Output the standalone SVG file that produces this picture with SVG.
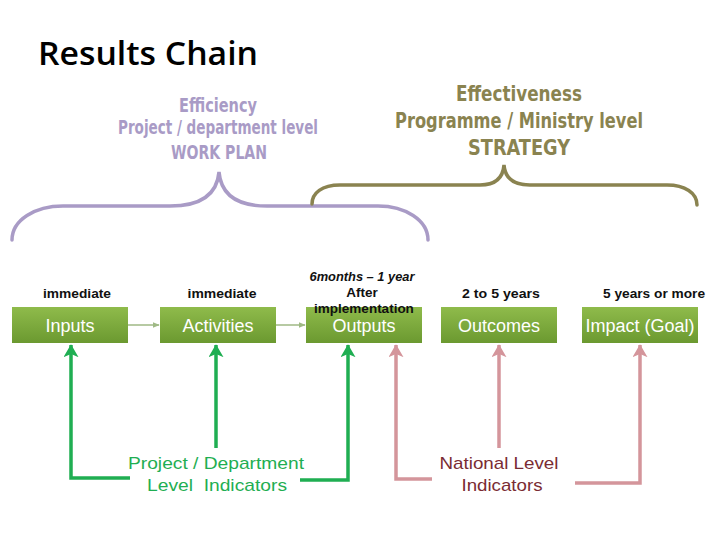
<svg xmlns="http://www.w3.org/2000/svg" width="720" height="540" viewBox="0 0 720 540">
<defs>
<linearGradient id="boxGrad" x1="0" y1="0" x2="0" y2="1">
<stop offset="0" stop-color="#8fbb4b"/>
<stop offset="1" stop-color="#6b9930"/>
</linearGradient>
<marker id="thinArrow" viewBox="0 0 10 10" refX="9" refY="5" markerWidth="7" markerHeight="7" orient="auto" markerUnits="userSpaceOnUse">
<path d="M0,1 L10,5 L0,9 z" fill="#9fb985"/>
</marker>
<marker id="greenArrow" viewBox="0 0 16 12" refX="15" refY="6" markerWidth="13" markerHeight="15" orient="auto" markerUnits="userSpaceOnUse" preserveAspectRatio="none">
<path d="M0,0 L16,6 L0,12 L4,6 z" fill="#1fae52"/>
</marker>
<marker id="pinkArrow" viewBox="0 0 16 12" refX="15" refY="6" markerWidth="13" markerHeight="15" orient="auto" markerUnits="userSpaceOnUse" preserveAspectRatio="none">
<path d="M0,0 L16,6 L0,12 L4,6 z" fill="#d4959b"/>
</marker>
</defs>
<style>
.box { fill: url(#boxGrad); }
.boxText { font-family: "Liberation Sans", Arial, sans-serif; font-size: 18px; fill: #ffffff; text-anchor: middle; }
.time { font-family: "Liberation Sans", Arial, sans-serif; font-size: 13.5px; font-weight: bold; fill: #111111; text-anchor: middle; }
.purple { font-family: "DejaVu Sans Condensed", "DejaVu Sans", sans-serif; font-size: 19px; font-weight: bold; fill: #a99bc6; text-anchor: middle; }
.olive { font-family: "DejaVu Sans Condensed", "DejaVu Sans", sans-serif; font-size: 21px; font-weight: bold; fill: #8a8350; text-anchor: middle; }
.greenTxt { font-family: "Liberation Sans", Arial, sans-serif; font-size: 17px; fill: #1fae52; text-anchor: middle; }
.redTxt { font-family: "Liberation Sans", Arial, sans-serif; font-size: 17px; fill: #7a2c33; text-anchor: middle; }
.thin { stroke: #9fb985; stroke-width: 1.5; fill: none; }
.gline { stroke: #1fae52; stroke-width: 3.5; fill: none; }
.pline { stroke: #d4959b; stroke-width: 3.5; fill: none; }
.brace { fill: none; stroke-width: 3.5; stroke-linecap: round; }
</style>
<rect width="720" height="540" fill="#ffffff"/>
<text x="38" y="65" font-family="'Open Sans', 'Liberation Sans', sans-serif" font-size="33" font-weight="600" fill="#000000" textLength="220" lengthAdjust="spacingAndGlyphs">Results Chain</text>

<g id="efficiency-label">
<text class="purple" x="218" y="112" textLength="78" lengthAdjust="spacingAndGlyphs">Efficiency</text>
<text class="purple" x="218" y="134" textLength="200" lengthAdjust="spacingAndGlyphs">Project / department level</text>
<text class="purple" x="219" y="159" textLength="96" lengthAdjust="spacingAndGlyphs">WORK PLAN</text>
</g>
<g id="effectiveness-label">
<text class="olive" x="519" y="101" textLength="126" lengthAdjust="spacingAndGlyphs">Effectiveness</text>
<text class="olive" x="519" y="128" textLength="248" lengthAdjust="spacingAndGlyphs">Programme / Ministry level</text>
<text class="olive" x="519" y="155" textLength="102" lengthAdjust="spacingAndGlyphs">STRATEGY</text>
</g>

<g id="braces">
<path class="brace" stroke="#a99bc6" d="M12,240 C12,220 35,206 63,206 L170,206 C200,206 217,195 219,172 C221,195 238,206 267,206 L378,206 C405,206 428,220 428,240"/>
<path class="brace" stroke="#8a8350" d="M312,204 C312,193 322,185 340,185 L480,185 C495,185 503,178 504,165 C505,178 513,185 530,185 L667,185 C685,185 697,193 697,205"/>
</g>

<g id="time-labels">
<text class="time" x="77" y="298" textLength="68" lengthAdjust="spacingAndGlyphs">immediate</text>
<text class="time" x="222" y="298" textLength="69" lengthAdjust="spacingAndGlyphs">immediate</text>
<text class="time" x="362" y="281" font-style="italic" textLength="105" lengthAdjust="spacingAndGlyphs">6months – 1 year</text>
<text class="time" x="362" y="297">After</text>
<text class="time" x="501" y="298" textLength="78" lengthAdjust="spacingAndGlyphs">2 to 5 years</text>
<text class="time" x="654" y="298" textLength="102" lengthAdjust="spacingAndGlyphs">5 years or more</text>
</g>

<g id="connectors">
<line class="thin" x1="128" y1="325" x2="159" y2="325" marker-end="url(#thinArrow)"/>
<line class="thin" x1="276" y1="325" x2="305" y2="325" marker-end="url(#thinArrow)"/>
<polyline class="gline" points="130,478 71,478 71,345" marker-end="url(#greenArrow)"/>
<line class="gline" x1="216" y1="448" x2="216" y2="345" marker-end="url(#greenArrow)"/>
<polyline class="gline" points="300,480 348,480 348,345" marker-end="url(#greenArrow)"/>
<polyline class="pline" points="432,479 396,479 396,345" marker-end="url(#pinkArrow)"/>
<line class="pline" x1="499" y1="448" x2="499" y2="345" marker-end="url(#pinkArrow)"/>
<polyline class="pline" points="575,483 640,483 640,345" marker-end="url(#pinkArrow)"/>
</g>

<g id="node-inputs">
<rect class="box" x="12" y="307" width="116" height="36"/>
<text class="boxText" x="70" y="332">Inputs</text>
</g>
<g id="node-activities">
<rect class="box" x="160" y="307" width="116" height="36"/>
<text class="boxText" x="218" y="332">Activities</text>
</g>
<g id="node-outputs">
<rect class="box" x="306" y="307" width="116" height="36"/>
<text class="boxText" x="364" y="332">Outputs</text>
</g>
<text class="time" x="364" y="313">implementation</text>
<g id="node-outcomes">
<rect class="box" x="441" y="307" width="116" height="36"/>
<text class="boxText" x="499" y="332">Outcomes</text>
</g>
<g id="node-impact">
<rect class="box" x="582" y="307" width="116" height="36"/>
<text class="boxText" x="640" y="332">Impact (Goal)</text>
</g>

<g id="project-indicators">
<text class="greenTxt" x="216" y="469" textLength="176" lengthAdjust="spacingAndGlyphs">Project / Department</text>
<text class="greenTxt" x="217" y="491" textLength="140" lengthAdjust="spacingAndGlyphs" xml:space="preserve">Level  Indicators</text>
</g>
<g id="national-indicators">
<text class="redTxt" x="499" y="469" textLength="119" lengthAdjust="spacingAndGlyphs">National Level</text>
<text class="redTxt" x="502" y="491" textLength="81" lengthAdjust="spacingAndGlyphs">Indicators</text>
</g>
</svg>
